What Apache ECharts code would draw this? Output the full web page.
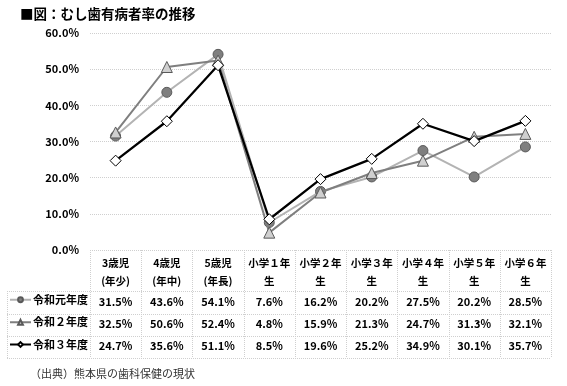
<!DOCTYPE html>
<html>
<head>
<meta charset="utf-8">
<script src="https://cdn.jsdelivr.net/npm/echarts@6/dist/echarts.min.js"></script>
<style>
  html, body { margin: 0; padding: 0; background: #fff; }
  #chart { width: 567px; height: 386px; }
</style>
</head>
<body>
<div id="chart"></div>
<script>
// categories (header cells of the data table)
const categories = [
  "3歳児\n(年少)", "4歳児\n(年中)", "5歳児\n(年長)",
  "小学１年\n生", "小学２年\n生", "小学３年\n生",
  "小学４年\n生", "小学５年\n生", "小学６年\n生"
];
const seriesNames = ["令和元年度", "令和２年度", "令和３年度"];
const reiwa1 = [31.5, 43.6, 54.1, 7.6, 16.2, 20.2, 27.5, 20.2, 28.5];
const reiwa2 = [32.5, 50.6, 52.4, 4.8, 15.9, 21.3, 24.7, 31.3, 32.1];
const reiwa3 = [24.7, 35.6, 51.1, 8.5, 19.6, 25.2, 34.9, 30.1, 35.7];
const yMin = 0, yMax = 60, yStep = 10;

const chart = echarts.init(document.getElementById("chart"));
const font = '"Noto Sans CJK JP", "Noto Sans", sans-serif';
const borderColor = "#cfcfcf";

// plot / table layout
const plotLeft = 90, plotRight = 551, plotTop = 33, plotBottom = 250;
const colW = (plotRight - plotLeft) / categories.length;
const rowLines = [291, 313.5, 336, 358];
const tableLeft = 7;

const rows = [reiwa1, reiwa2, reiwa3];

const dotted = { stroke: borderColor, lineWidth: 1, lineDash: [1, 1] };
const tableLines = [];
for (let i = 0; i <= categories.length; i++) {
  const x = Math.round(plotLeft + i * colW) + 0.5;
  tableLines.push({ type: "line", silent: true,
    shape: { x1: x, y1: plotBottom, x2: x, y2: rowLines[3] }, style: dotted });
}
tableLines.push({ type: "line", silent: true,
  shape: { x1: tableLeft + 0.5, y1: rowLines[0], x2: tableLeft + 0.5, y2: rowLines[3] }, style: dotted });
rowLines.forEach(y => {
  tableLines.push({ type: "line", silent: true,
    shape: { x1: tableLeft, y1: Math.round(y) + 0.5, x2: plotRight, y2: Math.round(y) + 0.5 }, style: dotted });
});

const lineStyles = [
  { line: "#b3b3b3", width: 2, symbol: "circle", size: 10, fill: "#7f7f7f", border: "#595959" },
  { line: "#7f7f7f", width: 2, symbol: "triangle", size: 11, fill: "#d0d0d0", border: "#595959" },
  { line: "#000000", width: 2.25, symbol: "diamond", size: 11, fill: "#ffffff", border: "#000000" }
];

const options = {
  animation: false,
  textStyle: { fontFamily: font },
  title: {
    text: "■図：むし歯有病者率の推移",
    left: 15, top: 2,
    textStyle: { fontSize: 13.5, fontWeight: "bold", color: "#000", fontFamily: font }
  },
  grid: { left: plotLeft, right: 567 - plotRight, top: plotTop, bottom: 386 - plotBottom, containLabel: false },
  legend: rows.map((r, i) => ({
    data: [seriesNames[i]],
    left: 9,
    top: (rowLines[i] + rowLines[i + 1]) / 2 - 8,
    itemWidth: 21, itemHeight: 6, itemGap: 4,
    padding: 0,
    selectedMode: false,
    textStyle: { fontSize: 11, fontWeight: "bold", color: "#000", fontFamily: font, padding: [0, 0, 0, -3] }
  })),
  xAxis: [
    {
      type: "category",
      data: categories,
      axisLine: { show: false },
      axisTick: { show: false },
      axisLabel: { interval: 0, margin: 4, fontSize: 10.5, fontWeight: "bold", lineHeight: 18, color: "#000" }
    }
  ].concat(rows.map((r, i) => ({
    type: "category",
    data: categories,
    position: "bottom",
    offset: 41 + i * 22.3,
    axisLine: { show: false },
    axisTick: { show: false },
    axisLabel: {
      interval: 0, margin: 5, fontSize: 11, fontWeight: "bold", color: "#000",
      formatter: (v, idx) => r[idx].toFixed(1) + "%"
    }
  }))),
  yAxis: {
    type: "value",
    min: yMin, max: yMax, interval: yStep,
    axisLine: { show: false },
    axisTick: { show: false },
    axisLabel: {
      margin: 11, fontSize: 11, fontWeight: "bold", color: "#000",
      formatter: v => v.toFixed(1) + "%"
    },
    splitLine: { lineStyle: { color: borderColor, type: [1, 1], width: 1 } }
  },
  series: rows.map((r, i) => ({
    name: seriesNames[i],
    type: "line",
    data: r,
    symbol: lineStyles[i].symbol,
    symbolSize: lineStyles[i].size,
    lineStyle: { color: lineStyles[i].line, width: lineStyles[i].width },
    itemStyle: { color: lineStyles[i].fill, borderColor: lineStyles[i].border, borderWidth: 1 },
    z: 2 + i
  })),
  graphic: tableLines.concat([
    {
      type: "text", left: 30, top: 368,
      style: { text: "（出典）熊本県の歯科保健の現状", fontSize: 11, fill: "#333", fontFamily: font }
    }
  ])
};

chart.setOption(options);
</script>
</body>
</html>
